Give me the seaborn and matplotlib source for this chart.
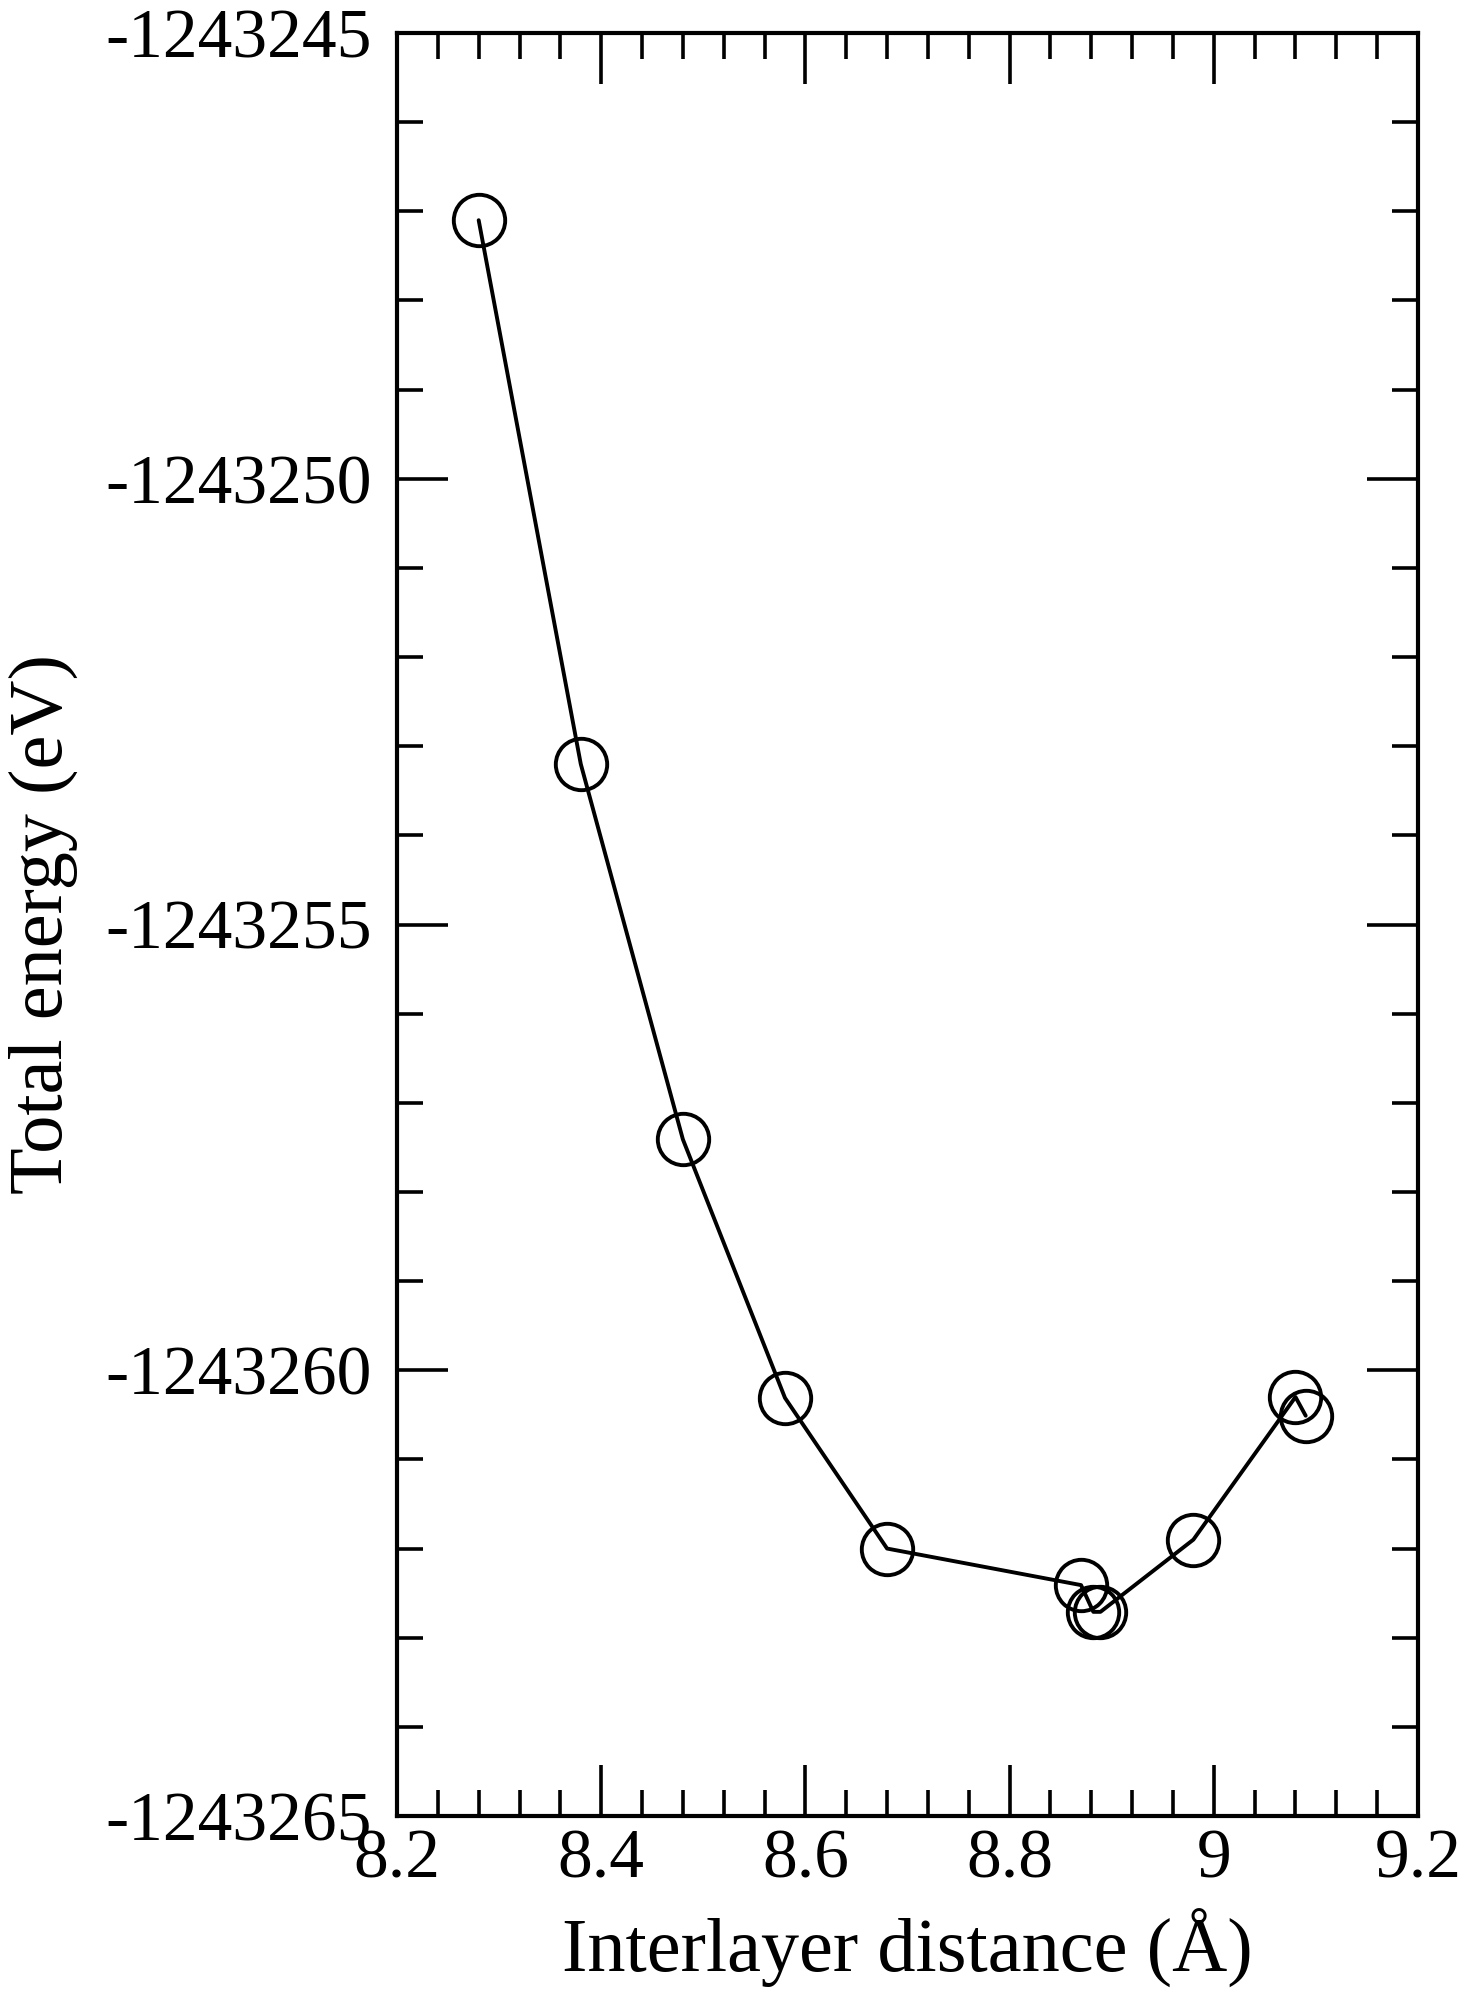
import matplotlib
matplotlib.use("Agg")
import matplotlib.pyplot as plt
from matplotlib.ticker import MultipleLocator, FuncFormatter
import seaborn as sns
import pandas as pd

# Data
distance = [8.28, 8.38, 8.48, 8.58, 8.68, 8.87, 8.882, 8.889, 8.98, 9.08, 9.09]
energy = [-1243247.10, -1243253.20, -1243257.41, -1243260.31, -1243262.00,
          -1243262.41, -1243262.71, -1243262.71, -1243261.90, -1243260.30, -1243260.51]
x_ticks = [8.2, 8.4, 8.6, 8.8, 9.0, 9.2]
y_ticks = [-1243265, -1243260, -1243255, -1243250, -1243245]
x_label = "Interlayer distance (Å)"
y_label = "Total energy (eV)"

sns.set_theme(style="white")
plt.rcParams['font.family'] = ['Liberation Serif', 'DejaVu Serif']
plt.rcParams['axes.unicode_minus'] = False
plt.rcParams['text.color'] = 'black'
plt.rcParams['axes.labelcolor'] = 'black'
plt.rcParams['xtick.color'] = 'black'
plt.rcParams['ytick.color'] = 'black'
plt.rcParams['xtick.labelcolor'] = 'black'
plt.rcParams['ytick.labelcolor'] = 'black'

df = pd.DataFrame({"d": distance, "E": energy})

fig = plt.figure(figsize=(14.78, 20.13), dpi=100)
ax = fig.add_axes([397/1478, 1 - 1816/2013, (1418-397)/1478, (1816-33)/2013])

sns.lineplot(data=df, x="d", y="E", sort=False, estimator=None, ax=ax,
             color="black", linewidth=2.8, marker="o", markersize=37,
             markerfacecolor="none", markeredgecolor="black", markeredgewidth=2.8)

ax.set_xlim(8.2, 9.2)
ax.set_ylim(-1243265, -1243245)
ax.set_xticks(x_ticks)
ax.set_yticks(y_ticks)
ax.xaxis.set_minor_locator(MultipleLocator(0.04))
ax.yaxis.set_minor_locator(MultipleLocator(1))
ax.xaxis.set_major_formatter(FuncFormatter(lambda v, p: f"{v:g}"))
ax.yaxis.set_major_formatter(FuncFormatter(lambda v, p: f"{v:.0f}"))

for s in ax.spines.values():
    s.set_color("black")
    s.set_linewidth(3.0)

ax.tick_params(which="both", direction="in", top=True, right=True,
               bottom=True, left=True, color="black", labelcolor="black", width=2.6)
ax.tick_params(which="major", length=37, labelsize=50, pad=9)
ax.tick_params(which="minor", length=19)
ax.tick_params(axis="y", which="major", pad=18)

ax.set_xlabel(x_label, fontsize=55, labelpad=12, color="black")
ax.set_ylabel(y_label, fontsize=55, labelpad=20, color="black")
ax.grid(False)

fig.savefig("out.png", dpi=100, facecolor="white")
